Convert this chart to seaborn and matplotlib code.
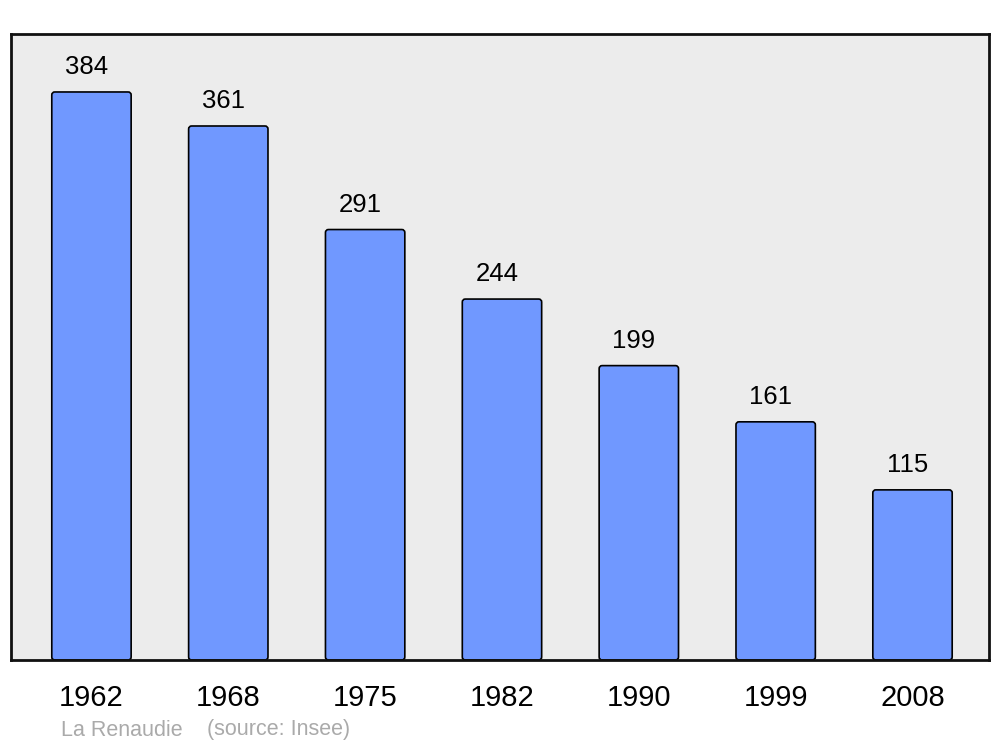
import matplotlib
matplotlib.use("Agg")
import pandas as pd
import seaborn as sns
import matplotlib.pyplot as plt
from matplotlib.patches import FancyBboxPatch

# population data
years = ["1962", "1968", "1975", "1982", "1990", "1999", "2008"]
population = [384, 361, 291, 244, 199, 161, 115]
commune = "La Renaudie"
source = "(source: Insee)"

df = pd.DataFrame({"year": years, "population": population})

sns.set_style("white")
plt.rcParams["font.family"] = ["Liberation Sans", "DejaVu Sans"]

fig = plt.figure(figsize=(10, 7.47), dpi=100)
ax = fig.add_axes([0.011, 0.1165, 0.978, 0.838])
ax.set_facecolor("#ececec")

sns.barplot(data=df, x="year", y="population", color="#7098ff", saturation=1,
            width=0.58, edgecolor="black", linewidth=1.2, ax=ax)

ax.set_xlim(-0.588, 6.559)
ax.set_ylim(0, 423.2)

# swap bars for slightly rounded ones
aspect = (ax.get_ylim()[1] / 626) / ((ax.get_xlim()[1] - ax.get_xlim()[0]) / 978)
for p in list(ax.patches):
    x, y, w, h = p.get_x(), p.get_y(), p.get_width(), p.get_height()
    rb = FancyBboxPatch((x, y), w, h, boxstyle="round,pad=0,rounding_size=0.022",
                        mutation_aspect=aspect, facecolor=p.get_facecolor(),
                        edgecolor="black", linewidth=1.2, zorder=p.get_zorder())
    p.remove()
    ax.add_patch(rb)

for i, v in enumerate(population):
    ax.annotate(str(v), xy=(i, v), xytext=(-3.6, 18), textcoords="offset points",
                ha="center", va="center", fontsize=18.5, color="black")

ax.set_yticks([])
ax.set_xlabel("")
ax.set_ylabel("")
ax.tick_params(axis="x", length=0, pad=17, labelsize=21, colors="black")
for s in ax.spines.values():
    s.set_visible(True)
    s.set_color("#111111")
    s.set_linewidth(2)

fig.text(0.061, 1 - 730 / 747, commune, color="#aaaaaa", fontsize=15.5, va="center")
fig.text(0.207, 1 - 730 / 747, source, color="#aaaaaa", fontsize=15.5, va="center")

fig.savefig("out.png", dpi=100)
